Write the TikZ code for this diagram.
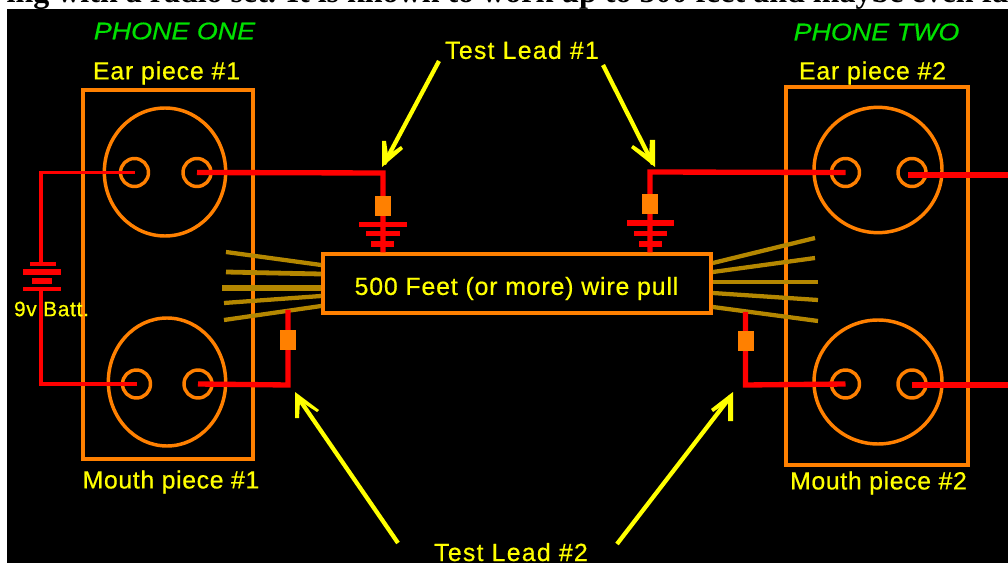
\documentclass[tikz,border=0pt]{standalone}
\usepackage{fontspec}
\usetikzlibrary{shapes.geometric,calc}
\setmainfont{Liberation Sans}
\newfontfamily\headfont{Liberation Serif}
\newfontfamily\labfont{Liberation Sans}[FakeBold=0.6]
\newfontfamily\labwide{Liberation Sans}[FakeBold=0.6,LetterSpace=3.5]
\newfontfamily\labwider{Liberation Sans}[FakeBold=0.6,LetterSpace=5.2]
\newfontfamily\labnarrow{Liberation Sans}[FakeBold=0.6,LetterSpace=2.6]
\newfontfamily\phonefont{Liberation Sans}[FakeStretch=1.12,FakeBold=0.5]
\definecolor{phorange}{RGB}{255,128,0}
\definecolor{phred}{RGB}{255,0,0}
\definecolor{phyellow}{RGB}{255,255,0}
\definecolor{phgreen}{RGB}{0,225,0}
\definecolor{phwire}{RGB}{180,135,0}
\tikzset{
  x=0.75pt,y=-0.75pt,
  lab/.style={text=phyellow,inner sep=0pt,font=\labwide\fontsize{18.6pt}{20pt}\selectfont},
  phonelab/.style={text=phgreen,inner sep=0pt,font=\phonefont\itshape\fontsize{18pt}{20pt}\selectfont},
  housing/.style={draw=phorange,line width=3pt,rectangle,inner sep=0pt},
  capsule/.style={draw=phorange,line width=2.6pt,ellipse,inner sep=0pt},
  terminal/.style={draw=phorange,line width=2.6pt,circle,inner sep=0pt,minimum size=21pt},
  clipbox/.style={fill=phorange,draw=none,rectangle,inner sep=0pt,minimum width=12pt,minimum height=15pt},
  thinred/.style={draw=phred,line width=2.8pt,line join=miter},
  thickred/.style={draw=phred,line width=4pt,line join=miter},
  plate/.style={draw=phred,line width=#1},
  plate/.default=4pt,
  wire/.style={draw=phwire,line width=#1},
  wire/.default=3.2pt,
  pointer/.style={draw=phyellow,line width=3.2pt},
  pointerhead/.style={fill=phyellow,draw=none}
}
\begin{document}
\begin{tikzpicture}
\useasboundingbox (0,0) rectangle (1008,563);
\clip (0,0) rectangle (1008,563);
\fill[white] (0,0) rectangle (1008,563);
\node[anchor=base west,inner sep=0pt,text=black,font=\headfont\bfseries\fontsize{24pt}{26pt}\selectfont] (head) at (6.4,2.5) {ing with a radio set. It is known to work up to 500 feet and maybe even fa};
\fill[black] (7,9) rectangle (1008,563);

% housings
\node[housing,minimum width=127pt,minimum height=277pt] (boxone) at (168,274.5) {};
\node[housing,minimum width=137pt,minimum height=283pt] (boxtwo) at (877,276) {};
% capsules
\node[capsule,minimum width=91pt,minimum height=96pt] (earone) at (165,172) {};
\node[capsule,minimum width=88pt,minimum height=96pt] (mouthone) at (167,382) {};
\node[capsule,minimum width=96pt,minimum height=94pt] (eartwo) at (878,170) {};
\node[capsule,minimum width=96pt,minimum height=93pt] (mouthtwo) at (878,382) {};
% terminals
\node[terminal] (e1l) at (134.5,172.5) {};
\node[terminal] (e1r) at (197,172.5) {};
\node[terminal] (m1l) at (136.5,384) {};
\node[terminal] (m1r) at (198,384) {};
\node[terminal] (e2l) at (845.5,172.5) {};
\node[terminal] (e2r) at (912,172.5) {};
\node[terminal] (m2l) at (845.5,384) {};
\node[terminal] (m2r) at (912,384) {};

% wire pull box
\node[draw=phorange,line width=2.8pt,rectangle,inner sep=0pt,minimum width=291pt,minimum height=44pt] (pull) at (517,283.5) {};
\node[text=phyellow,inner sep=0pt,font=\labwide\fontsize{18.6pt}{20pt}\selectfont] (pulllabel) at (516.5,288.5) {500 Feet (or more) wire pull};

% twisted wires
\coordinate (wl1) at (226,252); \coordinate (wl2) at (226,272); \coordinate (wl3) at (222,288);
\coordinate (wl4) at (224,303); \coordinate (wl5) at (224,320);
\coordinate (wr1) at (815,238); \coordinate (wr2) at (815,258); \coordinate (wr3) at (818,282);
\coordinate (wr4) at (818,300); \coordinate (wr5) at (818,321);
\draw[wire] (wl1) -- (pull.west |- 0,265);
\draw[wire=3.6pt] (wl2) -- (pull.west |- 0,274);
\draw[wire=3.8pt] (wl3) -- (pull.west |- 0,288);
\draw[wire] (wl4) -- (pull.west |- 0,296);
\draw[wire] (wl5) -- (pull.west |- 0,306);
\draw[wire] (wr1) -- (pull.east |- 0,263);
\draw[wire] (wr2) -- (pull.east |- 0,272);
\draw[wire=3pt] (wr3) -- (pull.east |- 0,282);
\draw[wire] (wr4) -- (pull.east |- 0,293);
\draw[wire] (wr5) -- (pull.east |- 0,307);

% battery circuit
\coordinate (batl) at (41,172.5);
\coordinate (batb) at (41,384);
\coordinate (battop) at (41,264);
\coordinate (batbot) at (41,289);
\draw[thinred] (e1l.center) -- (batl) -- (battop);
\draw[thinred] (batbot) -- (batb) -- (m1l.center);
\draw[plate=2.8pt] (30,264) -- (56,264);
\draw[plate=4pt] (23,272) -- (61,272);
\draw[plate=4pt] (32,281) -- (52,281);
\draw[plate=2.8pt] (23,289) -- (61,289);

% test lead 1
\coordinate (tl1a) at (383,173);
\coordinate (tl1b) at (650,172);
\draw[thickred] (e1r.center) -- (tl1a) -- (tl1a |- pull.north);
\draw[thickred] (e2l.center) -- (tl1b) -- (tl1b |- pull.north);
\node[clipbox] (cl1a) at (383,206) {};
\node[clipbox] (cl1b) at (650,204) {};
\draw[plate] (359,224.5) -- (407,224.5);
\draw[plate] (366,233.5) -- (400,233.5);
\draw[plate] (371,244) -- (394,244);
\draw[plate] (627,223) -- (674,223);
\draw[plate] (634,233.5) -- (667,233.5);
\draw[plate] (639,244) -- (662,244);

% test lead 2
\coordinate (tl2a) at (288,385);
\coordinate (tl2b) at (745.5,385);
\coordinate (tl2at) at (288,310);
\coordinate (tl2bt) at (745.5,312);
\draw[thickred] (m1r.center) -- (tl2a) -- (tl2at);
\draw[thickred] (m2l.center) -- (tl2b) -- (tl2bt);
\node[clipbox] (cl2a) at (288,340) {};
\node[clipbox] (cl2b) at (745.5,341.5) {};

% leads leaving to the right
\coordinate (outtop) at (1008,175);
\coordinate (outbot) at (1008,385);
\draw[thickred] (e2r.center) ++(-4,2.5) -- (outtop);
\draw[thickred] (m2r.center) ++(0,1) -- (outbot);

% labels
\node[phonelab] (phoneone) at (174.5,31) {PHONE ONE};
\node[phonelab] (phonetwo) at (876.5,32) {PHONE TWO};
\node[lab] (earlabone) at (166.5,73) {Ear piece \#1};
\node[lab] (earlabtwo) at (872.5,73) {Ear piece \#2};
\node[lab,font=\labnarrow\fontsize{18.6pt}{20pt}\selectfont] (mouthlabone) at (171,482) {Mouth piece \#1};
\node[lab,font=\labnarrow\fontsize{18.6pt}{20pt}\selectfont] (mouthlabtwo) at (878.5,483) {Mouth piece \#2};
\node[lab,font=\labwider\fontsize{18.6pt}{20pt}\selectfont] (leadone) at (522,50) {Test Lead \#1};
\node[lab,font=\labwider\fontsize{18.6pt}{20pt}\selectfont,anchor=base] (leadtwo) at (511,561) {Test Lead \#2};
\node[lab,font=\labwide\fontsize{15.6pt}{17pt}\selectfont] (batt) at (51.5,309) {9v Batt.};

% pointers
\coordinate (p1) at (439,61); \coordinate (t1) at (384,164);
\coordinate (p2) at (603,65); \coordinate (t2) at (653,164);
\coordinate (p3) at (398,543); \coordinate (t3) at (297,396);
\coordinate (p4) at (617,544); \coordinate (t4) at (731,396);
\draw[pointer] (p1) -- (t1);
\draw[pointer] (p2) -- (t2);
\draw[pointer] (p3) -- (t3);
\draw[pointer] (p4) -- (t4);
\fill[pointerhead] (382,141) -- (382,167) -- (403,149) -- (401,146) -- (388,155) -- (386,141) -- cycle;
\fill[pointerhead] (655,140) -- (655,167) -- (631,148) -- (633,145) -- (649,156) -- (650,140) -- cycle;
\fill[pointerhead] (295,418) -- (295,392) -- (319,410) -- (317,412) -- (300,401) -- (299,418) -- cycle;
\fill[pointerhead] (733,421) -- (733,392) -- (711,409) -- (713,412) -- (728,402) -- (728,421) -- cycle;
\end{tikzpicture}
\end{document}
